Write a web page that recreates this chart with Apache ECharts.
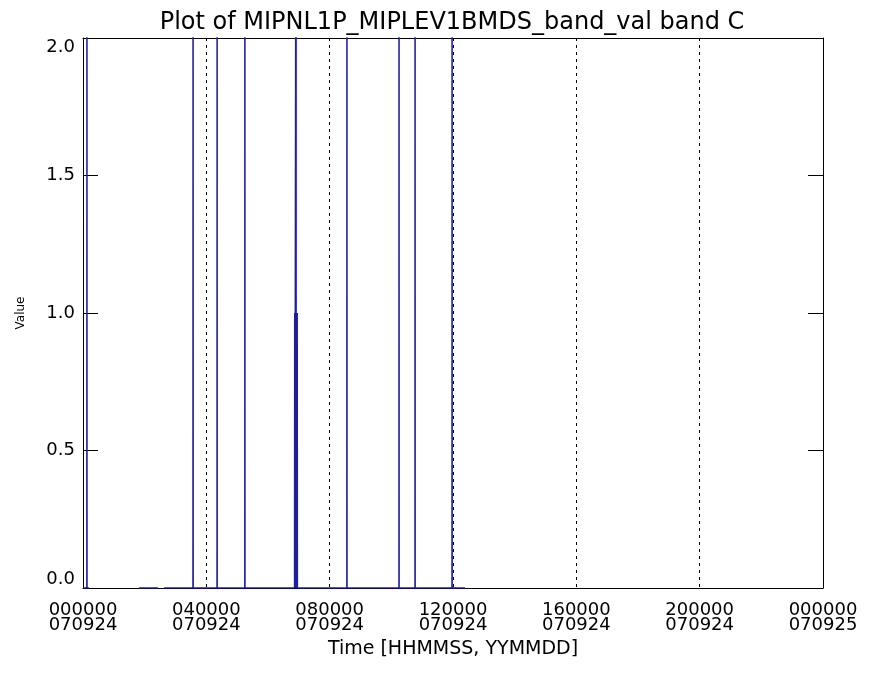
<!DOCTYPE html>
<html>
<head>
<meta charset="utf-8">
<script src="https://cdn.jsdelivr.net/npm/echarts@6/dist/echarts.min.js"></script>
<style>html,body{margin:0;padding:0;background:#fff}#c{width:873px;height:675px}</style>
</head>
<body>
<div id="c"></div>
<script>
// Time in seconds since 000000 070924; values (null = data gap)
const timeSec = [
  0, 450, 460, 470, 680, 3600,
  6550, 8750, 9000,
  9470, 12840, 12852, 12864, 15650, 15660, 15670, 18890, 18900, 18910,
  24700, 24720, 24740, 24866, 24876, 24886, 24990, 25010, 25030,
  30806, 30816, 30826, 36890, 36900, 36910, 38762, 38772, 38782,
  43082, 43092, 43102, 44600
];
const values = [
  0, 0, 3, 0, 0, null,
  0, 0, null,
  0, 0, 3, 0, 0, 3, 0, 0, 3, 0,
  0, 1, 0, 0, 3, 0, 0, 1, 0,
  0, 3, 0, 0, 3, 0, 0, 3, 0,
  0, 3, 0, 0
];
const xTickTime = ['000000', '040000', '080000', '120000', '160000', '200000', '000000'];
const xTickDate = ['070924', '070924', '070924', '070924', '070924', '070924', '070925'];
const yTicks = [0, 0.5, 1.0, 1.5, 2.0];

const FONT = 'DejaVu Sans';
const chart = echarts.init(document.getElementById('c'), null, {renderer: 'canvas'});
const data = timeSec.map((t, i) => [t, values[i] === null ? '-' : values[i]]);

chart.setOption({
  animation: false,
  backgroundColor: '#ffffff',
  title: {
    text: 'Plot of MIPNL1P_MIPLEV1BMDS_band_val band C',
    left: 447, top: 6, textAlign: 'center',
    textStyle: {fontFamily: FONT, fontWeight: 'normal', fontSize: 24, color: '#000'}
  },
  grid: {left: 83, right: 50, top: 38, bottom: 87, containLabel: false},
  xAxis: [{
    type: 'value', min: 0, max: 86400, interval: 14400, position: 'bottom',
    name: 'Time [HHMMSS, YYMMDD]', nameLocation: 'middle', nameGap: 50,
    nameTextStyle: {fontFamily: FONT, fontSize: 19, color: '#000'},
    axisLine: {show: true, onZero: false, lineStyle: {color: '#000', width: 1}},
    axisTick: {show: false},
    splitLine: {show: true, showMinLine: false, showMaxLine: false,
      lineStyle: {color: '#000', type: [3, 4], width: 1}},
    axisLabel: {
      margin: 15, fontFamily: FONT, fontSize: 18, color: '#000', lineHeight: 15,
      formatter: v => { const i = Math.round(v / 14400); return xTickTime[i] + '\n' + xTickDate[i]; }
    }
  }, {
    type: 'value', min: 0, max: 86400, position: 'top',
    axisLine: {show: true, onZero: false, lineStyle: {color: '#000', width: 1}},
    axisTick: {show: false}, axisLabel: {show: false}, splitLine: {show: false}
  }],
  yAxis: [{
    type: 'value', min: 0, max: 2, interval: 0.5, position: 'left',
    name: 'Value', nameLocation: 'middle', nameGap: 56,
    nameTextStyle: {fontFamily: FONT, fontSize: 12, color: '#000'},
    axisLine: {show: true, onZero: false, lineStyle: {color: '#000', width: 1}},
    axisTick: {show: true, inside: true, length: 15, lineStyle: {color: '#000', width: 1}},
    splitLine: {show: false},
    axisLabel: {margin: 8, fontFamily: FONT, fontSize: 18, color: '#000',
      verticalAlignMinLabel: 'bottom', verticalAlignMaxLabel: 'top',
      formatter: v => yTicks.includes(v) ? v.toFixed(1) : ''}
  }, {
    type: 'value', min: 0, max: 2, interval: 0.5, position: 'right',
    axisLine: {show: true, onZero: false, lineStyle: {color: '#000', width: 1}},
    axisTick: {show: true, inside: true, length: 15, lineStyle: {color: '#000', width: 1}},
    axisLabel: {show: false}, splitLine: {show: false}
  }],
  series: [{
    type: 'line', xAxisIndex: 0, yAxisIndex: 0, data: data,
    showSymbol: false, symbol: 'none', connectNulls: false, clip: true,
    lineStyle: {color: '#1e1ea0', width: 1.5}, z: 5
  }]
});
</script>
</body>
</html>
